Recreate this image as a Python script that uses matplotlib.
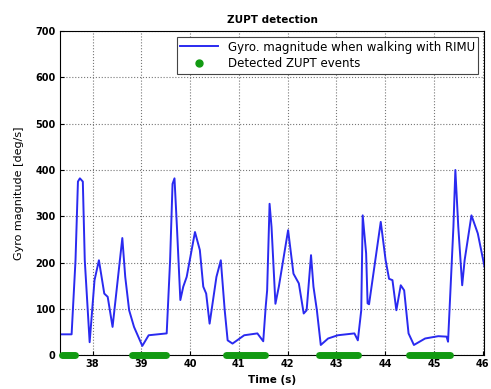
import numpy as np
import matplotlib
matplotlib.use("Agg")
import matplotlib.pyplot as plt

# gyro magnitude (deg/s) vs time (s)
t = [37.33, 37.57, 37.65, 37.70, 37.74, 37.80, 37.84, 37.94, 38.04, 38.13,
     38.24, 38.31, 38.41, 38.61, 38.67, 38.75, 38.85, 39.02, 39.15, 39.52,
     39.59, 39.64, 39.68, 39.73, 39.80, 39.86, 39.93, 40.10, 40.20, 40.27,
     40.33, 40.40, 40.54, 40.63, 40.71, 40.77, 40.87, 41.11, 41.38, 41.50,
     41.55, 41.58, 41.63, 41.67, 41.75, 41.82, 42.01, 42.12, 42.23, 42.33,
     42.39, 42.48, 42.53, 42.60, 42.68, 42.83, 43.03, 43.37, 43.44, 43.51,
     43.54, 43.61, 43.64, 43.67, 43.91, 44.01, 44.08, 44.15, 44.23, 44.32,
     44.39, 44.48, 44.59, 44.82, 45.09, 45.26, 45.29, 45.40, 45.44, 45.50,
     45.58, 45.63, 45.77, 45.90, 46.04]
gyro = [45, 45, 205, 375, 382, 375, 205, 28, 162, 205,
        133, 126, 61, 253, 169, 97, 61, 20, 43, 47,
        205, 370, 382, 277, 119, 148, 169, 266, 227, 148,
        133, 68, 169, 205, 97, 32, 25, 43, 47, 30,
        104, 140, 327, 277, 111, 148, 270, 176, 155, 90,
        97, 216, 148, 97, 22, 36, 43, 47, 32, 97,
        302, 220, 112, 110, 288, 205, 165, 162, 97, 151,
        140, 47, 22, 36, 41, 40, 29, 277, 400, 277,
        151, 205, 302, 263, 190]

# detected ZUPT intervals (start, end) in s
zupt_start = [37.37, 38.81, 40.73, 42.64, 44.48]
zupt_end = [37.64, 39.50, 41.54, 43.45, 45.33]

xticks = [38, 39, 40, 41, 42, 43, 44, 45, 46]
yticks = [0, 100, 200, 300, 400, 500, 600, 700]

fig = plt.figure(figsize=(4.91, 3.89), dpi=100)
ax = fig.add_axes([0.122, 0.087, 0.864, 0.833])

ax.plot(t, gyro, color='#2a2af0', lw=1.4,
        label='Gyro. magnitude when walking with RIMU')
for s, e in zip(zupt_start, zupt_end):
    ax.plot([s, e], [0, 0], color='#129a12', lw=5, solid_capstyle='round',
            zorder=3, clip_on=False)
ax.plot([], [], 'o', color='#129a12', ms=5, label='Detected ZUPT events')

ax.set_xlim(37.33, 46.03)
ax.set_ylim(0, 700)
ax.set_xticks(xticks)
ax.set_yticks(yticks)
ax.set_xticklabels([str(v) for v in xticks], fontsize=7, fontweight='bold')
ax.set_yticklabels([str(v) for v in yticks], fontsize=7, fontweight='bold')
ax.tick_params(direction='in', length=3, pad=3)
ax.grid(True, linestyle=':', color='#777777', lw=0.8)

ax.set_title('ZUPT detection', fontsize=7.5, fontweight='bold', pad=6)
ax.set_xlabel('Time (s)', fontsize=7.5, fontweight='bold', labelpad=4)
ax.set_ylabel('Gyro magnitude [deg/s]', fontsize=8, labelpad=8)

leg = ax.legend(loc='upper right', fontsize=8.5, framealpha=1,
                fancybox=False, edgecolor='#444444', borderpad=0.3,
                handlelength=3.2, labelspacing=0.3)
leg.get_frame().set_linewidth(0.8)

plt.savefig('out.png', dpi=100)
